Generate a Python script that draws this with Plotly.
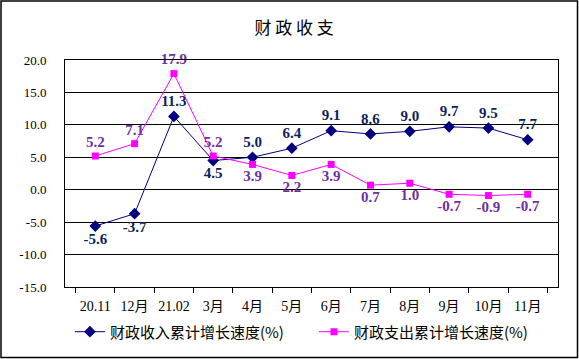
import plotly.graph_objects as go

categories = ["20.11", "12月", "21.02", "3月", "4月", "5月", "6月", "7月", "8月", "9月", "10月", "11月"]
income = [-5.6, -3.7, 11.3, 4.5, 5.0, 6.4, 9.1, 8.6, 9.0, 9.7, 9.5, 7.7]
expenditure = [5.2, 7.1, 17.9, 5.2, 3.9, 2.2, 3.9, 0.7, 1.0, -0.7, -0.9, -0.7]
y_ticks = [-15, -10, -5, 0, 5, 10, 15, 20]
y_tick_labels = ["-15.0", "-10.0", "-5.0", "0.0", "5.0", "10.0", "15.0", "20.0"]
income_name = "财政收入累计增长速度(%)"
expenditure_name = "财政支出累计增长速度(%)"
title_text = "财 政 收 支"

income_pos = ["bottom center", "bottom center", "top center", "bottom center"] + ["top center"] * 8
exp_pos = ["top center"] * 4 + ["bottom center"] * 8

serif = "Times New Roman, Liberation Serif, Noto Sans CJK SC"

fig = go.Figure()
fig.add_trace(go.Scatter(
    x=categories, y=income, name=income_name, mode="lines+markers+text",
    line=dict(color="#000080", width=1),
    marker=dict(symbol="diamond", size=9, color="#000080"),
    text=[f"{v:.1f}" for v in income], texttemplate="<b>%{text}</b>",
    textposition=income_pos, cliponaxis=False,
    textfont=dict(family=serif, size=15, color="#0d1f5c"),
))
fig.add_trace(go.Scatter(
    x=categories, y=expenditure, name=expenditure_name, mode="lines+markers+text",
    line=dict(color="#FF00FF", width=1),
    marker=dict(symbol="square", size=7, color="#FF00FF"),
    text=[f"{v:.1f}" for v in expenditure], texttemplate="<b>%{text}</b>",
    textposition=exp_pos, cliponaxis=False,
    textfont=dict(family=serif, size=15, color="#7030A0"),
))

fig.update_layout(
    width=579, height=359,
    margin=dict(l=65, r=21, t=60, b=72, autoexpand=False),
    paper_bgcolor="white", plot_bgcolor="white",
    title=dict(text=title_text, x=0.508, xanchor="center", y=1 - 28 / 359, yanchor="middle",
               font=dict(family="Noto Sans CJK SC", size=17, color="black")),
    showlegend=True,
    legend=dict(orientation="h", x=-0.0001, xanchor="left", y=-0.198, yanchor="middle",
                indentation=5,
                font=dict(family="Noto Sans CJK SC", size=15, color="black"),
                entrywidth=194, entrywidthmode="pixels", itemwidth=30,
                bgcolor="rgba(0,0,0,0)"),
    shapes=[dict(type="rect", xref="paper", yref="paper",
                 x0=(1 - 65) / 493, x1=(577.5 - 65) / 493,
                 y0=(287 - 357.5) / 227, y1=(287 - 1) / 227,
                 line=dict(color="black", width=1.5), fillcolor="rgba(0,0,0,0)", layer="below")],
)
fig.update_xaxes(
    type="category", showgrid=False, showline=True, linecolor="black", linewidth=1,
    mirror=True, ticks="outside", tickson="boundaries", ticklen=5, tickcolor="black",
    ticklabelstandoff=6, tickangle=0,
    tickfont=dict(family=serif, size=14, color="black"), automargin=False,
)
fig.update_yaxes(
    range=[-15, 20], tickmode="array", tickvals=y_ticks, ticktext=y_tick_labels,
    showgrid=True, gridcolor="black", gridwidth=1,
    showline=True, linecolor="black", linewidth=1, mirror=True, zeroline=False,
    ticks="", ticklabelstandoff=15,
    tickfont=dict(family=serif, size=13, color="black"), automargin=False,
)

fig.write_html("out.html", config={"displayModeBar": False},
               post_script="document.body.style.margin='0';")
